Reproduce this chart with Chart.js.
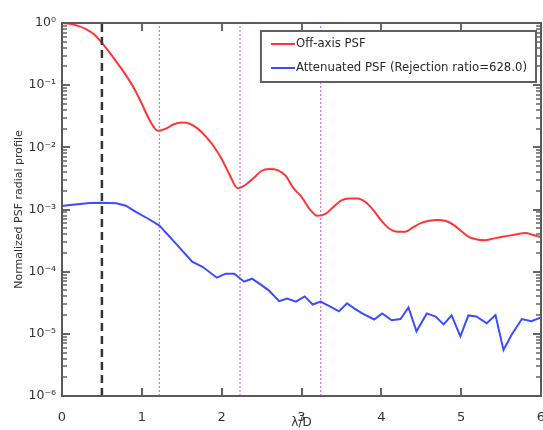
<!DOCTYPE html>
<html>
<head>
<meta charset="utf-8">
<script src="https://cdn.jsdelivr.net/npm/chart.js@4.4.0/dist/chart.umd.min.js"></script>
<style>
  html, body { margin: 0; padding: 0; background: #ffffff; }
  #wrap { width: 543px; height: 430px; }
</style>
</head>
<body>
<div id="wrap"><canvas id="psf" width="543" height="430"></canvas></div>
<script>
// Angular separation grid (λ/D) for the off-axis PSF profile
const offAxisX = [
  0.0, 0.1, 0.2, 0.3, 0.4, 0.5, 0.6, 0.7, 0.8, 0.9,
  1.0, 1.1, 1.2, 1.3, 1.4, 1.5, 1.6, 1.7, 1.8, 1.9,
  2.0, 2.1, 2.2, 2.3, 2.4, 2.5, 2.6, 2.7, 2.8, 2.9,
  3.0, 3.1, 3.2, 3.3, 3.4, 3.5, 3.6, 3.7, 3.8, 3.9,
  4.0, 4.1, 4.2, 4.3, 4.4, 4.5, 4.6, 4.7, 4.8, 4.9,
  5.0, 5.1, 5.2, 5.3, 5.4, 5.5, 5.6, 5.7, 5.8, 5.9, 6.0
];
// Normalized off-axis PSF radial profile
const offAxisPSF = [
  1.0, 0.97, 0.90, 0.80, 0.66, 0.48, 0.33, 0.22, 0.145, 0.09,
  0.050, 0.027, 0.0185, 0.020, 0.0235, 0.025, 0.024, 0.020, 0.015, 0.0104,
  0.0065, 0.0036, 0.0022, 0.0025, 0.0032, 0.0042, 0.0045, 0.0043, 0.0035, 0.0022,
  0.0016, 0.00102, 0.00079, 0.00085, 0.0011, 0.0014, 0.0015, 0.0015, 0.00132, 0.00098,
  0.00066, 0.00049, 0.00044, 0.00044, 0.00052, 0.00061, 0.00066, 0.00068, 0.00066, 0.00057,
  0.00045, 0.00036, 0.00033, 0.00032, 0.00034, 0.00036, 0.00038, 0.00040, 0.00042, 0.00039, 0.00036
];

// Sampling positions (λ/D) of the attenuated PSF profile
const attenX = [
  0.0, 0.1, 0.2, 0.34, 0.5, 0.68, 0.8, 0.93, 1.08, 1.22,
  1.43, 1.63, 1.76, 1.94, 2.05, 2.16, 2.28, 2.38, 2.49, 2.59,
  2.72, 2.82, 2.93, 3.04, 3.14, 3.24, 3.36, 3.47, 3.57, 3.66,
  3.76, 3.91, 4.01, 4.13, 4.24, 4.34, 4.44, 4.57, 4.68, 4.78,
  4.88, 4.99, 5.09, 5.19, 5.32, 5.43, 5.53, 5.63, 5.76, 5.88, 6.0
];
// Normalized attenuated PSF radial profile
const attenPSF = [
  0.00114, 0.00118, 0.00122, 0.00127, 0.00128, 0.00126, 0.00115, 0.00091, 0.00071, 0.00055,
  0.00028, 0.000145, 0.00012, 0.000080, 0.000093, 0.000093, 0.000069, 0.000077, 0.000062, 0.000050,
  0.0000335, 0.000037, 0.000033, 0.000040, 0.0000296, 0.000033, 0.0000275, 0.000023, 0.000031, 0.0000257,
  0.0000213, 0.000017, 0.0000213, 0.0000165, 0.0000173, 0.0000265, 0.0000110, 0.0000213, 0.0000190, 0.0000142,
  0.0000198, 0.0000091, 0.0000198, 0.0000190, 0.0000148, 0.0000200, 0.0000055, 0.0000096, 0.0000173, 0.0000160, 0.0000183
];

// Reference separations
const halfLambdaD = 0.5;
const airyZeros = [1.22, 2.23, 3.24];

// Axis extents and labels
const xRange = [0, 6];
const yRange = [1e-6, 1];
const yDecades = [-6, -5, -4, -3, -2, -1, 0];
const xTitle = 'λ/D';
const yTitle = 'Normalized PSF radial profile';
const seriesLabels = ['Off-axis PSF', 'Attenuated PSF (Rejection ratio=628.0)'];
const seriesColors = ['#ff3535', '#3a4cff'];

const SUP = { '0': '⁰', '1': '¹', '2': '²', '3': '³', '4': '⁴', '5': '⁵', '6': '⁶', '7': '⁷', '8': '⁸', '9': '⁹', '-': '⁻' };
function decadeLabel(v) {
  const p = Math.round(Math.log10(v));
  return '10' + String(p).split('').map(c => SUP[c]).join('');
}

function verticalMarker(x, color, width, dash) {
  return {
    data: [{ x: x, y: yRange[0] }, { x: x, y: yRange[1] }],
    borderColor: color,
    borderWidth: width,
    borderDash: dash,
    pointRadius: 0,
    fill: false,
    tension: 0
  };
}

// Axis frame, inward tick marks and the boxed legend
const framePlugin = {
  id: 'frameAndLegend',
  afterDraw(chart) {
    const { ctx, chartArea: a, scales } = chart;
    const xs = scales.x, ys = scales.y;
    ctx.save();
    ctx.setLineDash([]);
    for (const p of yDecades) {
      for (let k = 1; k <= 9; k++) {
        const v = k * Math.pow(10, p);
        if (v > yRange[1] * 1.0001) break;
        const py = Math.round(ys.getPixelForValue(v)) - 1;
        const major = k === 1;
        const len = major ? 8 : 5;
        ctx.fillStyle = major ? '#666666' : '#8a8a8a';
        ctx.fillRect(a.left, py, len, 2);
        ctx.fillRect(a.right - len, py, len, 2);
      }
    }
    ctx.fillStyle = '#666666';
    for (let xv = xRange[0]; xv <= xRange[1]; xv++) {
      const px = Math.round(xs.getPixelForValue(xv)) - 1;
      ctx.fillRect(px, a.bottom - 8, 2, 8);
      ctx.fillRect(px, a.top, 2, 8);
    }
    ctx.lineWidth = 2;
    ctx.strokeStyle = '#5a5a5a';
    ctx.strokeRect(a.left, a.top, a.right - a.left, a.bottom - a.top);

    // legend
    ctx.font = '13px "DejaVu Sans Condensed", "DejaVu Sans", sans-serif';
    const textW = Math.max(...seriesLabels.map(s => ctx.measureText(s).width));
    const boxW = 36 + textW + 8;
    const boxH = 51;
    const bx = a.right - 5 - boxW;
    const by = a.top + 8;
    ctx.fillStyle = '#ffffff';
    ctx.fillRect(bx, by, boxW, boxH);
    ctx.strokeStyle = '#606060';
    ctx.lineWidth = 2;
    ctx.strokeRect(bx, by, boxW, boxH);
    seriesLabels.forEach((label, i) => {
      const ry = by + 13 + i * 24;
      ctx.fillStyle = seriesColors[i];
      ctx.fillRect(bx + 10, ry - 1, 24, 2);
      ctx.fillStyle = '#2a2a2a';
      ctx.textBaseline = 'middle';
      ctx.textAlign = 'left';
      ctx.fillText(label, bx + 35, ry);
    });
    ctx.restore();
  }
};

const datasets = [
  {
    label: seriesLabels[0],
    data: offAxisX.map((v, i) => ({ x: v, y: offAxisPSF[i] })),
    borderColor: seriesColors[0],
    borderWidth: 2,
    pointRadius: 0,
    cubicInterpolationMode: 'monotone',
    fill: false,
    order: 2
  },
  {
    label: seriesLabels[1],
    data: attenX.map((v, i) => ({ x: v, y: attenPSF[i] })),
    borderColor: seriesColors[1],
    borderWidth: 2,
    pointRadius: 0,
    tension: 0,
    fill: false,
    order: 2
  },
  Object.assign(verticalMarker(halfLambdaD, '#333333', 2.5, [8, 5]), { order: 1 }),
  ...airyZeros.map(z => Object.assign(verticalMarker(z, '#d66ce6', 1.2, [2, 2]), { order: 3 }))
];

new Chart(document.getElementById('psf'), {
  type: 'line',
  data: { datasets },
  options: {
    responsive: false,
    animation: false,
    layout: { padding: { top: 23, right: 2, left: 0, bottom: 0 } },
    plugins: {
      legend: { display: false },
      tooltip: { enabled: false }
    },
    scales: {
      x: {
        type: 'linear',
        min: xRange[0],
        max: xRange[1],
        grid: { display: false },
        border: { display: false },
        ticks: {
          stepSize: 1,
          color: '#333333',
          padding: 6,
          font: { family: '"DejaVu Sans"', size: 13 }
        },
        title: {
          display: true,
          text: xTitle,
          color: '#333333',
          font: { family: '"DejaVu Sans"', size: 12 },
          padding: { top: 0, bottom: 0 }
        },
        afterFit(s) { s.height = 34; s.paddingLeft = 0; s.paddingRight = 0; }
      },
      y: {
        type: 'logarithmic',
        min: yRange[0],
        max: yRange[1],
        grid: { display: false },
        border: { display: false },
        afterBuildTicks(s) { s.ticks = yDecades.map(p => ({ value: Math.pow(10, p) })); },
        ticks: {
          autoSkip: false,
          color: '#333333',
          padding: -2,
          font: { family: '"DejaVu Sans"', size: 12.5 },
          callback: v => decadeLabel(v)
        },
        title: {
          display: true,
          text: yTitle,
          color: '#333333',
          font: { family: '"DejaVu Sans"', size: 11 },
          padding: { top: 13, bottom: 0 }
        },
        afterFit(s) { s.width = 62; s.paddingTop = 0; s.paddingBottom = 0; }
      }
    }
  },
  plugins: [framePlugin]
});
</script>
</body>
</html>
